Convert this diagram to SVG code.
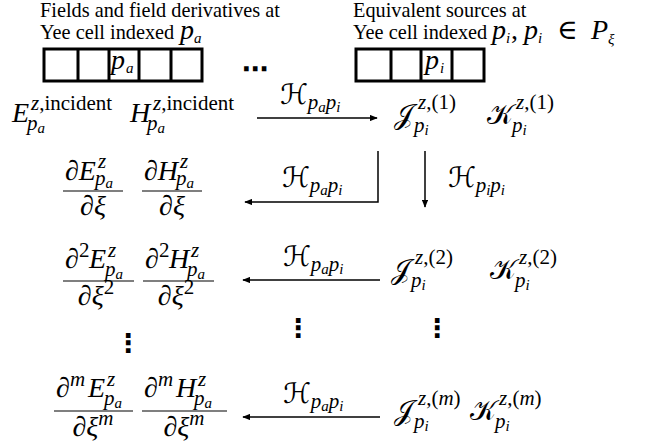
<svg xmlns="http://www.w3.org/2000/svg" width="647" height="447" viewBox="0 0 647 447">
<style>
text{font-family:"Liberation Serif","DejaVu Serif",serif;fill:#000}
.txt{font-size:20.3px}
.cal{font-family:"DejaVu Serif","DejaVu Sans","Noto Sans",serif;font-style:normal;font-size:28px}
.m{font-family:"Liberation Serif","DejaVu Serif",serif;font-size:28px;font-style:italic}
.s{font-family:"Liberation Serif","DejaVu Serif",serif;font-size:21px;font-style:italic}
.ss{font-family:"Liberation Serif","DejaVu Serif",serif;font-size:15px;font-style:italic}
.r{font-style:normal}
.d{font-family:"DejaVu Sans",sans-serif;font-size:26px;font-weight:bold}
.cell{fill:none;stroke:#000;stroke-width:3}
.c{fill:none;stroke:#000;stroke-width:1.5}
.fl{stroke:#000;stroke-width:1.2}
</style>
<defs>
<marker id="ah" viewBox="0 0 10 8" refX="9" refY="4" markerWidth="8" markerHeight="6.4" markerUnits="userSpaceOnUse" orient="auto">
<path d="M0,0 L10,4 L0,8 Z" fill="#000"/>
</marker>
</defs>

<g id="label-left">
<text class="txt" x="40" y="17">Fields and field derivatives at</text>
<text class="txt" x="40" y="39">Yee cell indexed</text>
<text class="m" x="180" y="39">p</text><text class="ss" x="194" y="43">a</text>
</g>
<g id="cells-left">
<rect class="cell" x="44" y="49" width="158" height="32"/>
<path class="cell" d="M78,49V81M109,49V81M139,49V81M171,49V81"/>
<text class="m" x="111" y="69">p</text><text class="ss" x="126" y="73">a</text>
</g>
<g id="ellipsis"><text class="d" x="255" y="78" text-anchor="middle">⋯</text></g>
<g id="label-right">
<text class="txt" x="353" y="17">Equivalent sources at</text>
<text class="txt" x="353" y="39">Yee cell indexed</text>
<text class="m" x="492" y="39">p</text><text class="ss" x="506" y="43">i</text>
<text class="m r" x="511" y="39">,</text>
<text class="m" x="524" y="39">p</text><text class="ss" x="538" y="43">i</text>
<text class="m r" x="557" y="39">∈</text>
<text class="m" x="591" y="39">P</text><text class="ss" x="608" y="44">ξ</text>
</g>
<g id="cells-right">
<rect class="cell" x="356" y="49" width="128" height="32"/>
<path class="cell" d="M391,49V81M421,49V81M452,49V81"/>
<text class="m" x="425" y="69">p</text><text class="ss" x="440" y="73">i</text>
</g>

<g id="E-incident">
<text class="m" x="12" y="122">E</text>
<text class="s" x="31" y="110">z<tspan class="r">,incident</tspan></text>
<text class="s" x="27" y="130">p<tspan class="ss" dy="3">a</tspan></text>
</g>
<g id="H-incident">
<text class="m" x="130" y="122">H</text>
<text class="s" x="153" y="110">z<tspan class="r">,incident</tspan></text>
<text class="s" x="147" y="130">p<tspan class="ss" dy="3">a</tspan></text>
</g>
<g id="J1">
<text class="cal" x="394" y="124">𝒥</text>
<text class="s" x="418" y="109">z<tspan class="r">,(1)</tspan></text>
<text class="s" x="414" y="132">p<tspan class="ss" dy="3">i</tspan></text>
</g>
<g id="K1">
<text class="cal" x="487" y="124">𝒦</text>
<text class="s" x="516" y="109">z<tspan class="r">,(1)</tspan></text>
<text class="s" x="512" y="132">p<tspan class="ss" dy="3">i</tspan></text>
</g>

<g id="dE1">
<text class="m" x="65" y="180"><tspan class="r">∂</tspan>E</text>
<text class="s" x="98" y="168">z</text>
<text class="s" x="95" y="185">p<tspan class="ss" dy="3">a</tspan></text>
<line class="fl" x1="63" y1="191" x2="123" y2="191"/>
<text class="m" x="93" y="215" text-anchor="middle"><tspan class="r">∂</tspan>ξ</text>
</g>
<g id="dH1">
<text class="m" x="144" y="180"><tspan class="r">∂</tspan>H</text>
<text class="s" x="180" y="168">z</text>
<text class="s" x="176" y="185">p<tspan class="ss" dy="3">a</tspan></text>
<line class="fl" x1="142" y1="191" x2="202" y2="191"/>
<text class="m" x="172" y="215" text-anchor="middle"><tspan class="r">∂</tspan>ξ</text>
</g>

<g id="dE2">
<text class="m r" x="65" y="268">∂</text>
<text class="s r" x="79" y="257">2</text>
<text class="m" x="89" y="268">E</text>
<text class="s" x="108" y="257">z</text>
<text class="s" x="105" y="276">p<tspan class="ss" dy="3">a</tspan></text>
<line class="fl" x1="63" y1="281" x2="134" y2="281"/>
<text class="m" x="96" y="305" text-anchor="middle"><tspan class="r">∂</tspan>ξ<tspan class="s r" dy="-11">2</tspan></text>
</g>
<g id="dH2">
<text class="m r" x="145" y="268">∂</text>
<text class="s r" x="159" y="257">2</text>
<text class="m" x="169" y="268">H</text>
<text class="s" x="191" y="257">z</text>
<text class="s" x="187" y="276">p<tspan class="ss" dy="3">a</tspan></text>
<line class="fl" x1="143" y1="281" x2="214" y2="281"/>
<text class="m" x="176" y="305" text-anchor="middle"><tspan class="r">∂</tspan>ξ<tspan class="s r" dy="-11">2</tspan></text>
</g>
<g id="J2">
<text class="cal" x="391" y="279">𝒥</text>
<text class="s" x="415" y="264">z<tspan class="r">,(2)</tspan></text>
<text class="s" x="411" y="287">p<tspan class="ss" dy="3">i</tspan></text>
</g>
<g id="K2">
<text class="cal" x="490" y="279">𝒦</text>
<text class="s" x="519" y="264">z<tspan class="r">,(2)</tspan></text>
<text class="s" x="515" y="287">p<tspan class="ss" dy="3">i</tspan></text>
</g>

<g id="vdots">
<text class="d" x="128" y="352" text-anchor="middle">⋮</text>
<text class="d" x="298" y="337" text-anchor="middle">⋮</text>
<text class="d" x="437" y="337" text-anchor="middle">⋮</text>
</g>

<g id="dEm">
<text class="m r" x="56" y="397">∂</text>
<text class="s" x="70" y="386">m</text>
<text class="m" x="88" y="397">E</text>
<text class="s" x="107" y="386">z</text>
<text class="s" x="104" y="405">p<tspan class="ss" dy="3">a</tspan></text>
<line class="fl" x1="54" y1="411" x2="133" y2="411"/>
<text class="m" x="93" y="436" text-anchor="middle"><tspan class="r">∂</tspan>ξ<tspan class="s" dy="-11">m</tspan></text>
</g>
<g id="dHm">
<text class="m r" x="144" y="397">∂</text>
<text class="s" x="158" y="386">m</text>
<text class="m" x="176" y="397">H</text>
<text class="s" x="198" y="386">z</text>
<text class="s" x="194" y="405">p<tspan class="ss" dy="3">a</tspan></text>
<line class="fl" x1="142" y1="411" x2="227" y2="411"/>
<text class="m" x="184" y="436" text-anchor="middle"><tspan class="r">∂</tspan>ξ<tspan class="s" dy="-11">m</tspan></text>
</g>
<g id="Jm">
<text class="cal" x="394" y="420">𝒥</text>
<text class="s" x="418" y="405">z<tspan class="r">,(</tspan>m<tspan class="r">)</tspan></text>
<text class="s" x="414" y="428">p<tspan class="ss" dy="3">i</tspan></text>
</g>
<g id="Km">
<text class="cal" x="470" y="420">𝒦</text>
<text class="s" x="499" y="405">z<tspan class="r">,(</tspan>m<tspan class="r">)</tspan></text>
<text class="s" x="495" y="428">p<tspan class="ss" dy="3">i</tspan></text>
</g>

<g id="connectors">
<line class="c" x1="257" y1="118" x2="377" y2="118" marker-end="url(#ah)"/>
<polyline class="c" points="378,151 378,202 245,202" marker-end="url(#ah)"/>
<line class="c" x1="425" y1="151" x2="425" y2="207" marker-end="url(#ah)"/>
<line class="c" x1="380" y1="280" x2="243" y2="280" marker-end="url(#ah)"/>
<line class="c" x1="380" y1="417" x2="243" y2="417" marker-end="url(#ah)"/>
<g id="connector-labels">
<text class="cal" x="280" y="104">ℋ<tspan class="s" dy="5">p<tspan class="ss" dy="3">a</tspan><tspan dy="-3">p</tspan><tspan class="ss" dy="3">i</tspan></tspan></text>
<text class="cal" x="282" y="187">ℋ<tspan class="s" dy="5">p<tspan class="ss" dy="3">a</tspan><tspan dy="-3">p</tspan><tspan class="ss" dy="3">i</tspan></tspan></text>
<text class="cal" x="448" y="187">ℋ<tspan class="s" dy="5">p<tspan class="ss" dy="3">i</tspan><tspan dy="-3">p</tspan><tspan class="ss" dy="3">i</tspan></tspan></text>
<text class="cal" x="283" y="266">ℋ<tspan class="s" dy="5">p<tspan class="ss" dy="3">a</tspan><tspan dy="-3">p</tspan><tspan class="ss" dy="3">i</tspan></tspan></text>
<text class="cal" x="283" y="403">ℋ<tspan class="s" dy="5">p<tspan class="ss" dy="3">a</tspan><tspan dy="-3">p</tspan><tspan class="ss" dy="3">i</tspan></tspan></text>
</g>
</g>
</svg>
